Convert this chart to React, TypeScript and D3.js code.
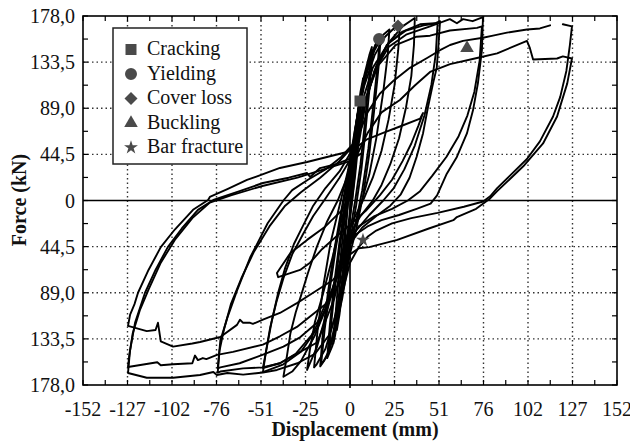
import React from "react";
import * as d3 from "d3";

type P = [number, number];

const xTicks = [-152.4, -127, -101.6, -76.2, -50.8, -25.4, 0, 25.4, 50.8, 76.2, 101.6, 127, 152.4];
const xTickLabels = ["-152", "-127", "-102", "-76", "-51", "-25", "0", "25", "51", "76", "102", "127", "152"];
const yTicks = [178, 133.5, 89, 44.5, 0, -44.5, -89, -133.5, -178];
const yTickLabels = ["178,0", "133,5", "89,0", "44,5", "0", "44,5", "89,0", "133,5", "178,0"];

const damageStates = ["Cracking", "Yielding", "Cover loss", "Buckling", "Bar fracture"];
const damageDisp = [5.7, 16.6, 27.4, 66.8, 7.4];
const damageForce = [96, 155.8, 168.3, 147.1, -38.1];

const loop01: P[] = [[0,0],[1.5,30],[3,55],[4,70],[3.2,50],[2,25],[0.5,0],[-1.5,-35],[-3,-65],[-4.5,-85],[-3.8,-60],[-2.5,-30],[-1,0],[0.5,20]];
const loop02: P[] = [[0.5,20],[2.5,55],[4.5,85],[6,100],[5,75],[3.5,40],[1.5,5],[-1,-30],[-3.5,-75],[-6,-110],[-7.5,-125],[-6.5,-95],[-4.5,-55],[-2,-15],[0,15],[2,45]];
const loop02b: P[] = [[2,45],[4,80],[6,105],[7.5,118],[6.5,95],[5,60],[3,25],[0.5,-10],[-2.5,-50],[-5.5,-95],[-8.5,-130],[-9.5,-138],[-8,-105],[-6,-65],[-3.5,-25],[-1,10],[1,40]];
const loop03: P[] = [[2,45],[5,90],[8,120],[11,140],[12.5,148],[11,120],[8.5,75],[6,35],[3,0],[0,-30],[-3.5,-70],[-7,-105],[-10.5,-135],[-12,-145],[-10.5,-115],[-8,-75],[-5,-35],[-2,0],[1,35]];
const loop03b: P[] = [[1,35],[4,75],[7.5,110],[10.5,132],[13,145],[11.5,115],[9,70],[6.5,30],[3.5,-5],[0.5,-35],[-3,-75],[-6.5,-110],[-10,-140],[-13,-152],[-11.5,-120],[-9,-80],[-6,-40],[-3,-5],[0,30]];
const loop04: P[] = [[1,35],[4,80],[8,115],[12,140],[15,152],[17,156],[16,135],[13.5,95],[10.5,50],[7,10],[3.5,-20],[0,-45],[-4,-85],[-8,-120],[-12,-145],[-15,-155],[-16.5,-158],[-14.5,-125],[-11.5,-85],[-8,-45],[-4,-5],[0,30]];
const loop04b: P[] = [[0,30],[3,70],[7,108],[11,135],[14.5,150],[17.5,158],[16.5,132],[14,90],[11,45],[7.5,5],[3.5,-28],[-0.5,-55],[-4.5,-95],[-9,-128],[-13,-150],[-17,-160],[-15.5,-128],[-12.5,-88],[-9,-48],[-5,-10],[-1,28]];
const loop05: P[] = [[0,30],[4,80],[9,120],[14,145],[19,160],[22.5,165],[21.5,140],[19,105],[15,60],[11,25],[6,-5],[1,-35],[-4,-75],[-9,-115],[-14,-143],[-19,-158],[-20.5,-161],[-18.5,-125],[-15,-80],[-11,-40],[-6,-5],[-1,30]];
const loop06: P[] = [[-1,30],[3,70],[8,110],[14,140],[20,158],[25,166],[28.5,169],[27.5,145],[25.5,112],[22,78],[18,48],[13,22],[8,2],[3,-15],[-2,-35],[-8,-75],[-14,-112],[-19,-142],[-24.5,-163.5],[-22.8,-143],[-20,-117],[-15.4,-90],[-10,-55],[-5,-20],[0,12],[4,45]];
const loop07: P[] = [[4,45],[9,95],[15,130],[22,152],[30,168],[37,176],[36.5,150],[35,120],[32,90],[28,60],[23,35],[18,15],[13,0],[6,-15],[0,-32],[-6,-62],[-12,-97],[-20,-130],[-28,-155],[-33,-165],[-38,-170],[-36,-150],[-34,-128],[-31,-108],[-28,-92],[-24,-70],[-19,-45],[-13,-20],[-7,0],[-1,25],[4,55]];
const loop51a: P[] = [[4,55],[8,90],[14,125],[21,150],[30,163],[40,170],[48.5,171],[51.4,173],[50.5,150],[49.5,128],[47.4,113],[44.5,90],[41.7,65],[38,42],[34,22],[29,6],[23,-5],[15,-15],[7,-26],[0,-42],[-7,-72],[-14,-105],[-22,-130],[-31,-148],[-40,-157],[-49.7,-161.6],[-47.4,-141],[-44.5,-115],[-41,-89],[-37,-65],[-32,-42],[-27,-25],[-21,-5],[-14,12],[-6,28],[1,48]];
const loop51b: P[] = [[1,48],[6,90],[13,128],[22,152],[32,164],[42,169],[50,171],[49,142],[46.5,112],[42.5,82],[37,53],[31,30],[25,12],[19,0],[11,-14],[3,-30],[-4,-58],[-11,-92],[-19,-124],[-28,-146],[-38,-158],[-49.7,-165.5],[-48,-146],[-45.5,-122],[-42,-98],[-38,-75],[-33,-52],[-27,-33],[-21,-15],[-14,2],[-6,22],[2,45]];
const loop76a: P[] = [[2,45],[7,85],[14,125],[22,148],[32,160],[45.7,168],[57,175],[61,171],[64.5,175],[70,173],[75.9,177],[75.3,145],[73,113],[70.2,87],[66.8,65],[61,42],[55,25],[49.7,5],[46,-3],[38,-8],[28,-14],[18,-19],[10,-25],[3,-33],[-3,-48],[-10,-85],[-18.8,-118],[-28.5,-132],[-38,-141],[-50,-149],[-63,-157],[-74,-161],[-75.5,-162],[-74,-135],[-70,-113],[-64.5,-87],[-57,-55],[-47,-22],[-38,0],[-33,10],[-24,20],[-14,30],[-5,42],[2,55]];
const loop76b: P[] = [[2,55],[8,95],[16,130],[26,150],[38,158],[45.7,159],[57,164],[72.5,166.5],[75.3,168],[74,135],[71,105],[67,82],[62,62],[55,42],[47,24],[40,9],[33,0],[24,-8],[14,-15],[5,-25],[-2,-42],[-9,-95],[-18.8,-137],[-28.5,-146],[-40,-157],[-50,-161],[-61,-162],[-74,-165],[-75.5,-166],[-74.5,-145],[-72,-125],[-68,-100],[-62,-75],[-55,-50],[-46,-25],[-37,-5],[-28,8],[-17,22],[-6,38],[3,55]];
const loop127aTop: P[] = [[3,55],[10,85],[17,103],[24.5,115],[34.2,128],[44,137.5],[51.4,145],[57.1,150],[64.5,154],[75.9,157],[81.6,159],[89.6,162],[101,165],[108.4,166],[114.2,169]];
const loop127a: P[] = [[121.5,170],[126.7,168],[125.5,150],[123.5,125],[120,100],[115.9,81],[108.4,57],[101,40],[91.3,24],[84,12],[80,4],[76,-1],[65,-6],[50,-12],[35,-17],[24,-22],[15,-29],[10,-35],[5,-45],[0,-60],[-6,-100],[-12,-130],[-20,-148],[-30,-157],[-41.7,-163.5],[-49.7,-166],[-61,-168],[-70,-166.4],[-76,-168.4],[-78,-165.5],[-85.6,-168.4],[-101,-171],[-116,-171],[-126.7,-166.4],[-125.6,-145],[-122.7,-118],[-117,-89],[-111,-67],[-104,-45],[-96,-27],[-86.8,-9],[-78,0.5],[-63,9],[-49.7,16.9],[-35,22],[-24.5,26.5],[-22.8,22.7],[-17.1,31.3],[-8,35],[-1.7,39.1],[4,43.9]];
const loop127b: P[] = [[4,43.9],[10,65],[18,85],[28.5,97],[37,111],[45.7,124],[57.1,131.5],[72.5,137.5],[84,142],[101,154],[102.7,147],[104.5,136],[118.2,137],[121.5,139],[126.7,137],[124,113],[118.2,81],[110.2,55],[98.9,33],[84,9],[80,2],[72,-8],[61,-16],[59,-19],[45,-27],[27,-38],[11,-45],[5,-46],[0,-52],[-6,-80],[-13.1,-99],[-22.8,-112],[-30.3,-122],[-40,-131],[-49.7,-139],[-66.8,-146],[-75.9,-149],[-82,-153],[-84,-152],[-86.8,-154],[-88.5,-149.5],[-90,-157],[-101,-158],[-108,-159],[-110,-156],[-126.7,-160.6],[-126,-150],[-124,-128],[-120,-106],[-115,-86],[-108,-60],[-100,-38],[-90,-17],[-80,-2],[-68,5],[-50,14],[-30,22],[-15,30],[0,38],[6,45]];
const loop127c: P[] = [[0,-55],[-9.7,-76.7],[-22.8,-91],[-30.3,-99],[-40,-108.5],[-49.7,-115],[-55.4,-119],[-57,-118],[-61,-118],[-62.8,-115],[-64.5,-120],[-74,-131.7],[-85.6,-136.5],[-90,-138],[-101,-141],[-108,-136],[-109.6,-118],[-111,-125],[-116,-126],[-126.7,-121],[-125.5,-110],[-123,-100],[-121,-89],[-115,-67],[-108,-45],[-100,-28],[-89.6,-9],[-81,0.5],[-80,3.4],[-70,11],[-58.8,19.8],[-40,31.4],[-24.5,37.1],[-15.4,41],[-1.7,46.8],[4,51.6],[9.7,59],[20,66],[28.5,71.4],[40,79],[41.7,84.4],[39,72],[35,55],[30,38],[24,20],[17,5],[9,-10],[1,-22],[-8,-35],[-16,-47],[-22.8,-60],[-28.5,-67],[-41,-74],[-41.7,-70],[-34,-50.6],[-24.5,-38],[-14,-25],[-5,-10],[0,2]];

const loops: P[][] = [loop01, loop02, loop02b, loop03, loop03b, loop04, loop04b, loop05, loop06, loop07, loop51a, loop51b, loop76a, loop76b, loop127aTop, loop127a, loop127b, loop127c];

const W = 630, H = 446;
const L = 83, R = 617, T = 16, B = 385;
const FONT = "Liberation Serif";

export default function App() {
  const x = d3.scaleLinear().domain([-152.4, 152.4]).range([L, R]);
  const y = d3.scaleLinear().domain([-178, 178]).range([B, T]);
  const line = d3.line<P>().x(d => x(d[0])).y(d => y(d[1]));
  const xMinor = d3.pairs(xTicks).map(([a, b]) => (a + b) / 2);
  const yMinor = d3.pairs(yTicks).map(([a, b]) => (a + b) / 2);
  const symbols = [
    { t: d3.symbolSquare, s: 121, rot: 0 },
    { t: d3.symbolCircle, s: 113, rot: 0 },
    { t: d3.symbolSquare, s: 85, rot: 45 },
    { t: d3.symbolTriangle, s: 80, rot: 0 },
    { t: d3.symbolStar, s: 60, rot: 0 },
  ];
  const markerFill = "#4a4a4a";
  const ts: React.CSSProperties = { fontFamily: FONT, fontSize: 20 };
  const tb: React.CSSProperties = { fontFamily: FONT, fontSize: 20, fontWeight: 700 };
  const legendBaselines = d3.range(5).map(i => 55 + i * 24.5);

  return (
    <svg width={W} height={H} style={{ position: "absolute", left: 0, top: 0, background: "#fff" }}>
      <rect x={0} y={0} width={W} height={H} fill="#fff" />
      {xTicks.slice(1, -1).filter(v => v !== 0).map((v, i) => (
        <line key={"gx" + i} x1={x(v)} x2={x(v)} y1={T} y2={B} stroke="#333" strokeWidth={1.4} strokeDasharray="1.5 3" />
      ))}
      {yTicks.slice(1, -1).filter(v => v !== 0).map((v, i) => (
        <line key={"gy" + i} x1={L} x2={R} y1={y(v)} y2={y(v)} stroke="#333" strokeWidth={1.4} strokeDasharray="1.5 3" />
      ))}
      {xMinor.concat(xTicks).map((v, i) => (
        <g key={"tx" + i}>
          <line x1={x(v)} x2={x(v)} y1={T} y2={T + 5} stroke="#000" strokeWidth={1.2} />
          <line x1={x(v)} x2={x(v)} y1={B} y2={B - 5} stroke="#000" strokeWidth={1.2} />
        </g>
      ))}
      {yMinor.concat(yTicks).map((v, i) => (
        <g key={"ty" + i}>
          <line x1={L} x2={L + 5} y1={y(v)} y2={y(v)} stroke="#000" strokeWidth={1.2} />
          <line x1={R} x2={R - 5} y1={y(v)} y2={y(v)} stroke="#000" strokeWidth={1.2} />
        </g>
      ))}
      <line x1={L} x2={R} y1={y(0)} y2={y(0)} stroke="#000" strokeWidth={1.6} />
      <line x1={x(0)} x2={x(0)} y1={T} y2={B + 3} stroke="#000" strokeWidth={1.6} />
      <g fill="none" stroke="#000" strokeWidth={1.9} strokeLinejoin="round" strokeLinecap="round">
        {loops.map((lp, i) => (
          <path key={"l" + i} d={line(lp) || ""} />
        ))}
      </g>
      {symbols.map((s, i) => (
        <path key={"m" + i} d={d3.symbol(s.t, s.s)() || ""} fill={markerFill}
          transform={`translate(${x(damageDisp[i])},${y(damageForce[i])}) rotate(${s.rot})`} />
      ))}
      <rect x={L} y={T} width={R - L} height={B - T} fill="none" stroke="#000" strokeWidth={1.6} />
      <rect x={113} y={28} width={134} height={136} fill="#fff" stroke="#222" strokeWidth={1.5} />
      {damageStates.map((name, i) => (
        <g key={"lg" + i}>
          <path d={d3.symbol(symbols[i].t, symbols[i].s)() || ""} fill={markerFill}
            transform={`translate(131,${legendBaselines[i] - 5.5}) rotate(${symbols[i].rot})`} />
          <text x={147} y={legendBaselines[i]} style={ts} fill="#111">{name}</text>
        </g>
      ))}
      {xTicks.map((v, i) => (
        <text key={"xl" + i} x={x(v)} y={416} style={ts} textAnchor="middle" fill="#111">{xTickLabels[i]}</text>
      ))}
      {yTicks.map((v, i) => (
        <text key={"yl" + i} x={75} y={y(v) + 7} style={ts} textAnchor="end" fill="#111">{yTickLabels[i]}</text>
      ))}
      <text x={355} y={436} style={tb} textAnchor="middle" fill="#111">Displacement (mm)</text>
      <text transform="translate(26,200) rotate(-90)" style={tb} textAnchor="middle" fill="#111">Force (kN)</text>
    </svg>
  );
}
